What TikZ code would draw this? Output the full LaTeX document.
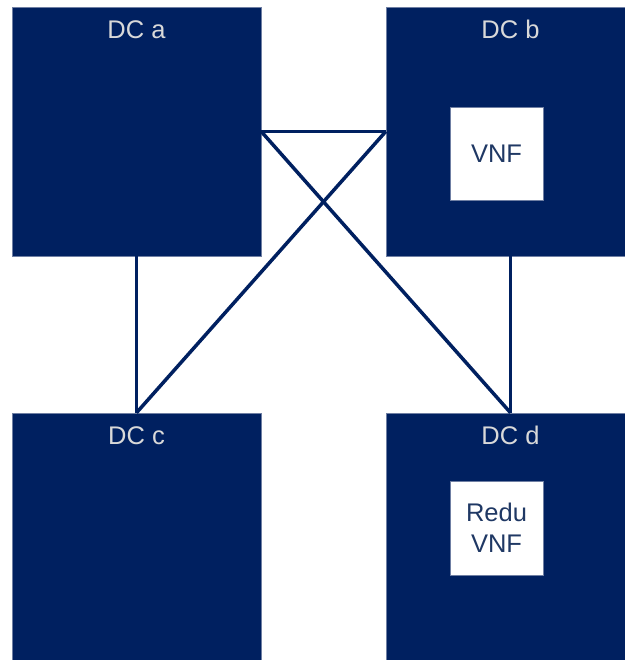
\documentclass[tikz,border=0pt]{standalone}
\usepackage{fontspec}
\setmainfont{Liberation Sans}
\definecolor{dcnavy}{HTML}{002060}
\definecolor{dcedge}{HTML}{6F7FA3}
\definecolor{dclabel}{HTML}{D9D9D9}
\definecolor{vnftext}{HTML}{1F3864}
\begin{document}
\begin{tikzpicture}[x=1pt,y=-1pt,
  dcbox/.style={rectangle, fill=dcnavy, draw=dcedge, line width=0.5pt,
    minimum width=249pt, minimum height=249pt, inner sep=0pt},
  dclbl/.style={anchor=base, text=dclabel, inner sep=0pt,
    font=\fontsize{25.5}{30}\selectfont},
  vnfbox/.style={rectangle, fill=white, draw=dcedge, line width=0.4pt,
    minimum width=93pt, minimum height=93pt, inner sep=0pt, align=center,
    text=vnftext, font=\fontsize{25.5}{31}\selectfont},
  link/.style={draw=dcnavy, line width=3.5pt}]
\useasboundingbox (0,0) rectangle (624,660);

% data centres
\node[dcbox] (a) at (136.5,131.5) {};
\node[dcbox] (b) at (510.5,131.5) {};
\node[dcbox] (c) at (136.5,537.5) {};
\node[dcbox] (d) at (510.5,537.5) {};

% titles
\node[dclbl] (la) at ([yshift=-32pt]a.north) {DC a};
\node[dclbl] (lb) at ([yshift=-32pt]b.north) {DC b};
\node[dclbl] (lc) at ([yshift=-32pt]c.north) {DC c};
\node[dclbl] (ld) at ([yshift=-32pt]d.north) {DC d};

% network functions
\node[vnfbox] (vnf) at (496.5,153.5) {VNF};
\node[vnfbox, minimum height=94pt] (redu) at (496.5,528) {Redu\\VNF};

% links between data centres
\path[link] (a.east) -- (b.west);
\path[link] (a.east) -- (d.north);
\path[link] (b.west) -- (c.north);
\path[link] (a.south) -- (c.north);
\path[link] (b.south) -- (d.north);
\end{tikzpicture}
\end{document}
